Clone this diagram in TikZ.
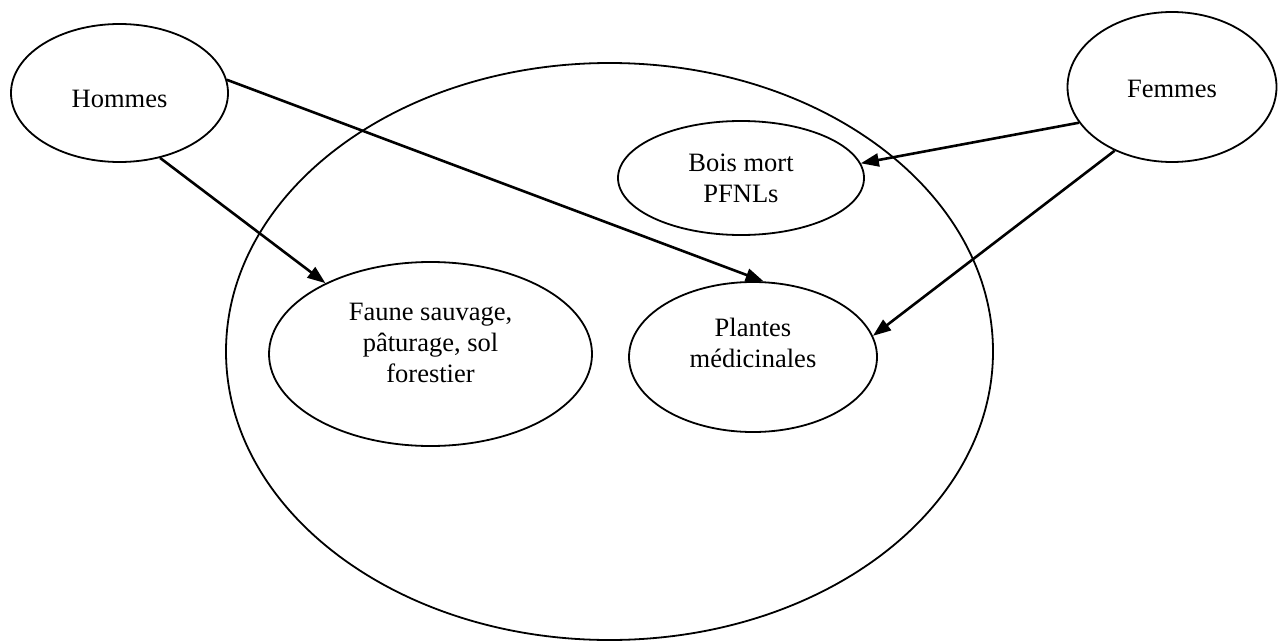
\documentclass[tikz,border=0pt]{standalone}
\usepackage{fontspec}
\setmainfont{Liberation Serif}
\usetikzlibrary{shapes.geometric,arrows.meta}
\begin{document}
\begin{tikzpicture}[x=1pt,y=-1pt,
  oval/.style={draw, ellipse, line width=1.8pt, inner sep=0pt},
  txt/.style={font=\fontsize{26.5}{31}\selectfont, align=center, inner sep=0pt},
  arr/.style={line width=2.6pt, -{Triangle[length=18pt,width=13pt]}}]
\useasboundingbox (0,0) rectangle (1282,642);
\node[oval, minimum width=767pt, minimum height=577pt] (big) at (609.5,351.5) {};
\node[oval, minimum width=217pt, minimum height=138pt,
      label={[txt,yshift=-5.5pt]center:Hommes}] (hom) at (119.5,93) {};
\node[oval, minimum width=209pt, minimum height=150pt,
      label={[txt,yshift=-1.5pt]center:Femmes}] (fem) at (1172,87) {};
\node[oval, minimum width=246pt, minimum height=114pt,
      label={[txt]center:{Bois mort\\PFNLs}}] (bois) at (741,178) {};
\node[oval, minimum width=323pt, minimum height=184pt,
      label={[txt,yshift=11.5pt]center:{Faune sauvage,\\pâturage, sol\\forestier}}] (faune) at (430.5,354) {};
\node[oval, minimum width=248pt, minimum height=150pt,
      label={[txt,yshift=14.5pt]center:{Plantes\\médicinales}}] (plantes) at (753,357) {};
\draw[arr] (hom.-58) -- (faune.146);
\draw[arr] (hom.7) -- (plantes.82);
\draw[arr] (fem.201) -- (bois.7);
\draw[arr] (fem.228) -- (plantes.10.5);
\end{tikzpicture}
\end{document}
